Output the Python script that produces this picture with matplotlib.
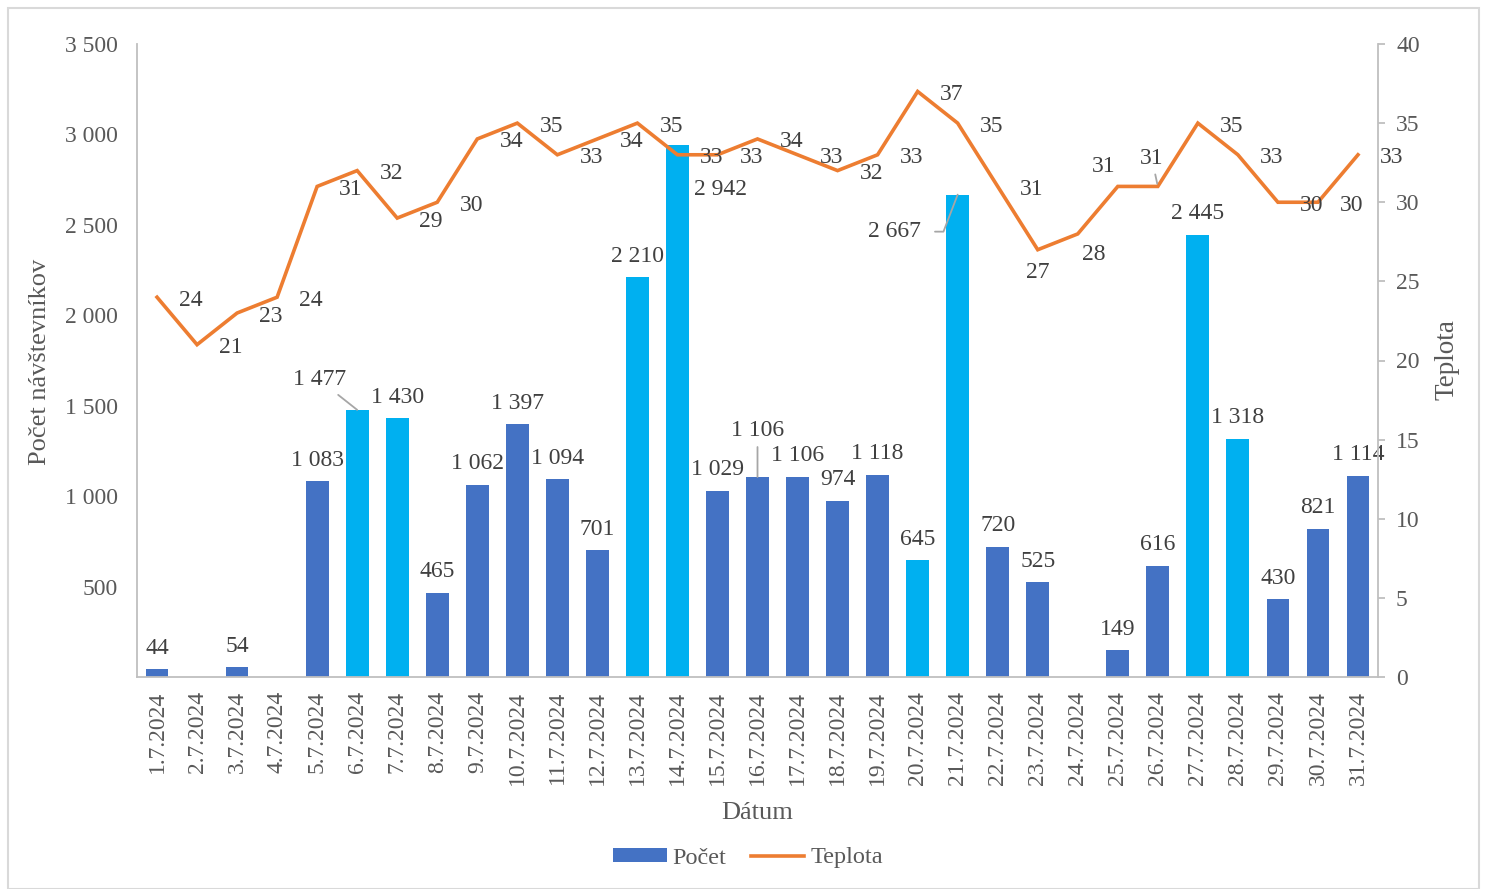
import matplotlib
matplotlib.use("Agg")
import matplotlib.pyplot as plt
from matplotlib.patches import Rectangle, Patch
from matplotlib.lines import Line2D

plt.rcParams['font.family'] = ['Liberation Serif', 'DejaVu Serif']

dates = [f"{d}.7.2024" for d in range(1, 32)]
counts = [44, 0, 54, 0, 1083, 1477, 1430, 465, 1062, 1397, 1094, 701, 2210, 2942,
          1029, 1106, 1106, 974, 1118, 645, 2667, 720, 525, 0, 149, 616, 2445, 1318,
          430, 821, 1114]
temps = [24, 21, 23, 24, 31, 32, 29, 30, 34, 35, 33, 34, 35, 33, 33, 34, 33, 32, 33,
         37, 35, 31, 27, 28, 31, 31, 35, 33, 30, 30, 33]
weekend = [6, 7, 13, 14, 20, 21, 27, 28]

C_WD = '#4472C4'
C_WE = '#00B0F0'
C_LINE = '#ED7D31'
TXT = '#404040'
TICK = '#595959'
GRID = '#BFBFBF'
LEAD = '#A6A6A6'
FS = 17

fig = plt.figure(figsize=(14.85, 8.89), dpi=100)
fig.patches.append(Rectangle((8/1485, 0), 1471/1485, 1 - 8/889, transform=fig.transFigure,
                             fill=False, edgecolor='#D9D9D9', linewidth=1.5))
ax = fig.add_axes([137/1485, 1 - 677/889, (1378-137)/1485, (677-44)/889])
ax2 = ax.twinx()

x = list(range(len(dates)))
colors = [C_WE if (i + 1) in weekend else C_WD for i in x]
ax.bar(x, counts, width=0.57, color=colors, zorder=2)
ax.set_xlim(-0.5, len(dates) - 0.5)
ax.set_ylim(0, 3500)
ax.set_yticks(range(500, 3501, 500))
ax.set_yticklabels([f"{v:,}".replace(",", " ") for v in range(500, 3501, 500)])
ax.set_xticks(x)
ax.set_xticklabels(dates, rotation=90)
ax.tick_params(axis='y', length=0, pad=14, labelsize=FS, labelcolor=TICK)
ax.tick_params(axis='x', length=0, pad=10, labelsize=FS, labelcolor=TICK)

for s in ['top', 'right']:
    ax.spines[s].set_visible(False)
for s in ['left', 'bottom']:
    ax.spines[s].set_color(GRID)
    ax.spines[s].set_linewidth(1.3)

ax2.plot(x, temps, color=C_LINE, linewidth=2.6, solid_joinstyle='miter', zorder=3)
ax2.set_ylim(0, 40)
ax2.set_yticks(range(0, 41, 5))
ax2.tick_params(axis='y', length=5, width=1.3, color=GRID, pad=8, labelsize=FS,
                labelcolor=TICK, direction='out')
for s in ['top', 'left', 'bottom']:
    ax2.spines[s].set_visible(False)
ax2.spines['right'].set_color(GRID)
ax2.spines['right'].set_linewidth(1.3)

# bar labels
bar_off = {5: (-38, 30), 13: (43, -45), 15: (0, 46), 20: (-63, -37)}
bar_leader = {5: dict(arrowstyle='-', color=LEAD, lw=1.3, shrinkA=2, shrinkB=0),
              15: dict(arrowstyle='-', color=LEAD, lw=1.3, shrinkA=2, shrinkB=0),
              20: dict(arrowstyle='-', color=LEAD, lw=1.3, shrinkA=10, shrinkB=0, patchA=None,
                       relpos=(1.0, 0.5),
                       connectionstyle='angle,angleA=0,angleB=-111,rad=0')}
for i, v in enumerate(counts):
    if v == 0:
        continue
    off = bar_off.get(i, (0, 21))
    ax.annotate(f"{v:,}".replace(",", " "), xy=(i, v), xytext=off, textcoords='offset pixels',
                ha='center', va='center', fontsize=FS, color=TXT, zorder=4,
                arrowprops=bar_leader.get(i))

# temperature labels
t_off = {22: (0, -23), 23: (16, -21), 24: (-14, 20), 25: (-6, 28)}
t_leader = {25: dict(arrowstyle='-', color=LEAD, lw=1.3, shrinkA=2, shrinkB=2)}
for i, v in enumerate(temps):
    off = t_off.get(i, (34, -3))
    ax2.annotate(str(v), xy=(i, v), xytext=off, textcoords='offset pixels',
                 ha='center', va='center', fontsize=FS, color=TXT, zorder=5,
                 arrowprops=t_leader.get(i))

fig.text(40/1485, 1 - 362/889, "Počet návštevníkov", rotation=90, ha='center', va='center',
         fontsize=19, color=TICK)
fig.text(1447/1485, 1 - 360/889, "Teplota", rotation=90, ha='center', va='center',
         fontsize=19.5, color=TICK)
fig.text(757/1485, 1 - 813/889, "Dátum", ha='center', va='center', fontsize=19, color=TICK)

handles = [Patch(facecolor=C_WD, edgecolor='none'), Line2D([], [], color=C_LINE, lw=2.6)]
fig.legend(handles, ["Počet", "Teplota"], loc='center', bbox_to_anchor=(748/1485, 1 - 858/889),
           ncol=2, frameon=False, fontsize=17.5, labelcolor=TICK, handlelength=2.2,
           handleheight=0.5, handletextpad=0.25, columnspacing=1.0)

fig.savefig("out.png", dpi=100)
